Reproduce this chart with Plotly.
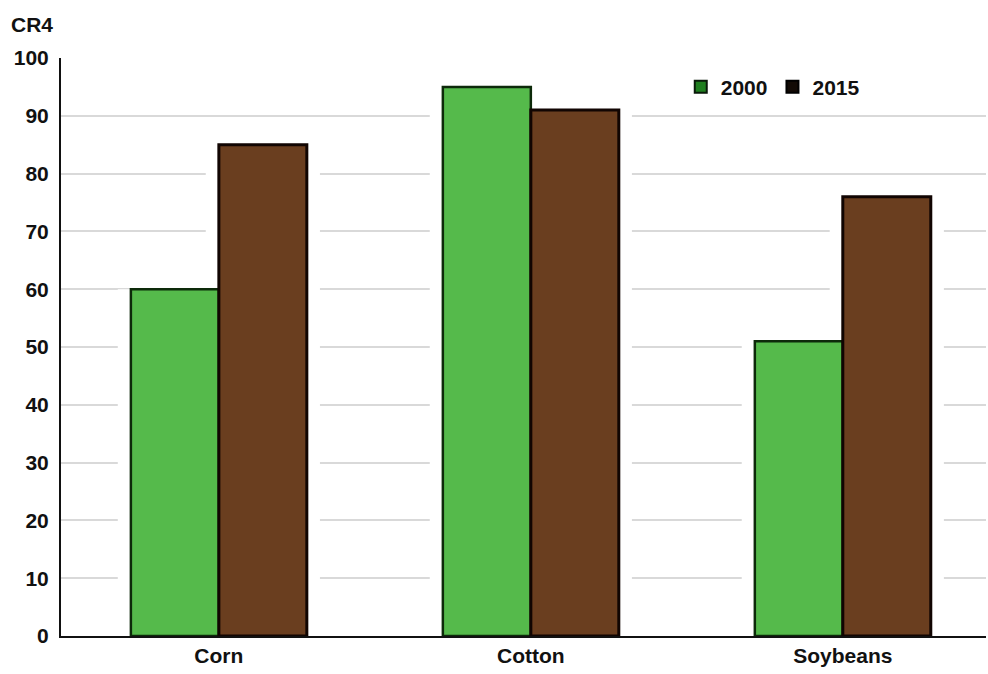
import plotly.graph_objects as go

# Four-firm concentration ratio (CR4) by crop
crops = ["Corn", "Cotton", "Soybeans"]
cr4_2000 = [60, 95, 51]
cr4_2015 = [85, 91, 76]
y_ticks = [0, 10, 20, 30, 40, 50, 60, 70, 80, 90, 100]

font_family = "Liberation Sans, Arial, sans-serif"

# bar geometry in category units (one category = 1.0)
BAR_W = 0.282
HALO = 0.042


def bold(size):
    return dict(family=font_family, size=size, color="#111111", weight="bold")


fig = go.Figure()

# white halos behind each bar so the gridlines break around the columns
for vals, off in ((cr4_2000, -BAR_W), (cr4_2015, 0.0)):
    fig.add_trace(go.Bar(
        x=crops, y=vals, offset=off - HALO, width=BAR_W + 2 * HALO,
        marker=dict(color="white", line=dict(width=0)),
        showlegend=False, hoverinfo="skip",
    ))

fig.add_trace(go.Bar(
    name="2000", x=crops, y=cr4_2000, offset=-BAR_W, width=BAR_W,
    marker=dict(color="#55ba4b", line=dict(color="#0d2a0a", width=2.5)),
    showlegend=False,
))
fig.add_trace(go.Bar(
    name="2015", x=crops, y=cr4_2015, offset=0.0, width=BAR_W,
    marker=dict(color="#6a3e1f", line=dict(color="#110502", width=3)),
    showlegend=False,
))

# legend swatches (darker than the bars themselves)
fig.add_trace(go.Bar(
    name="2000", x=[None], y=[None],
    marker=dict(color="#1f7f1f", line=dict(color="#0a1a0a", width=2)),
))
fig.add_trace(go.Bar(
    name="2015", x=[None], y=[None],
    marker=dict(color="#120a05", line=dict(color="#000000", width=2)),
))

fig.update_layout(
    width=988, height=674,
    margin=dict(l=61, r=2, t=58, b=38),
    paper_bgcolor="white", plot_bgcolor="white",
    barmode="overlay",
    font=bold(21),
    showlegend=True,
    legend=dict(
        orientation="h", x=0.67, y=0.985, xanchor="left", yanchor="top",
        font=bold(21), itemwidth=30,
        bgcolor="rgba(0,0,0,0)",
    ),
    xaxis=dict(
        range=[-0.506, 2.459],
        showline=True, linecolor="#111111", linewidth=2,
        showgrid=False, ticks="", tickfont=bold(21),
    ),
    yaxis=dict(
        range=[0, 100], tickvals=y_ticks, ticks="",
        showline=True, linecolor="#111111", linewidth=2,
        showgrid=True, gridcolor="#d9d9d9", gridwidth=2,
        zeroline=False, tickfont=bold(21), ticklabelstandoff=6,
    ),
    annotations=[dict(
        text="CR4", xref="paper", yref="paper", x=-0.056, y=1.035,
        xanchor="left", yanchor="bottom", showarrow=False,
        font=bold(21),
    )],
)

fig.write_html("out.html")
